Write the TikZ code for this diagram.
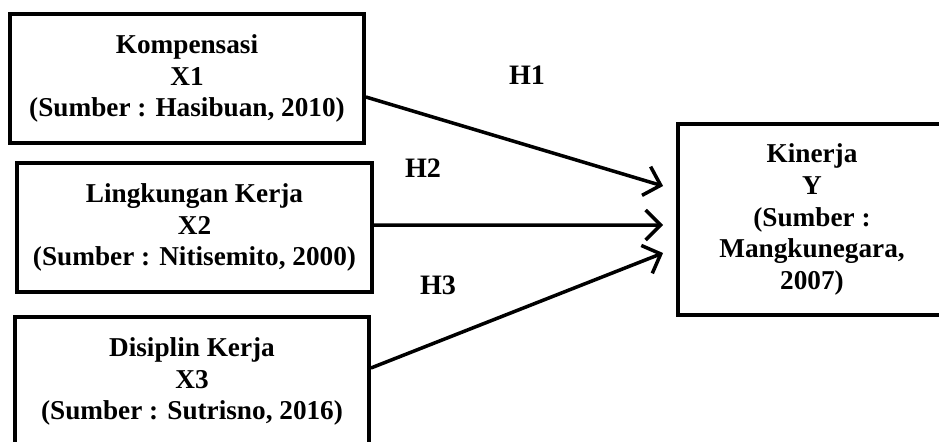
\documentclass[tikz,border=0pt]{standalone}
\usepackage{fontspec}
\setmainfont{Liberation Serif}
\usetikzlibrary{arrows.meta,positioning,calc}
\tikzset{
 varbox/.style={draw=black,line width=2.2pt,align=center,
   font=\fontsize{15.5}{18}\selectfont\bfseries,minimum width=7.08cm,minimum height=2.58cm,inner sep=4pt},
 resbox/.style={varbox,minimum width=5.36cm,minimum height=3.82cm},
 arr/.style={-{Straight Barb[length=3mm,width=6mm]},line width=2pt},
 hyp/.style={font=\fontsize{16}{19}\selectfont\bfseries,inner sep=1pt}
}
\begin{document}
\begin{tikzpicture}
\useasboundingbox (0,0) rectangle (18.78,-8.82);
\node[varbox] (x1) at (3.74,-1.57) {Kompensasi\\X1\\(Sumber : Hasibuan, 2010)};
\node[varbox,minimum width=7.10cm] (x2) at (3.89,-4.55) {Lingkungan Kerja\\X2\\(Sumber : Nitisemito, 2000)};
\node[varbox] (x3) at (3.84,-7.63) {Disiplin Kerja\\X3\\(Sumber : Sutrisno, 2016)};
\node[resbox] (y) at (16.24,-4.39) {Kinerja\\Y\\(Sumber :\\Mangkunegara,\\2007)};
\node[hyp] (h1) at (10.54,-1.5) {H1};
\node[hyp] (h2) at (8.46,-3.36) {H2};
\node[hyp] (h3) at (8.76,-5.7) {H3};
\foreach \s/\a/\b in {x1/-0.37/0.67,x2/0.05/-0.11,x3/0.27/-0.67}
  \draw[arr] ([yshift=\a cm]\s.east)--([xshift=-0.26cm,yshift=\b cm]y.west);
\end{tikzpicture}
\end{document}
